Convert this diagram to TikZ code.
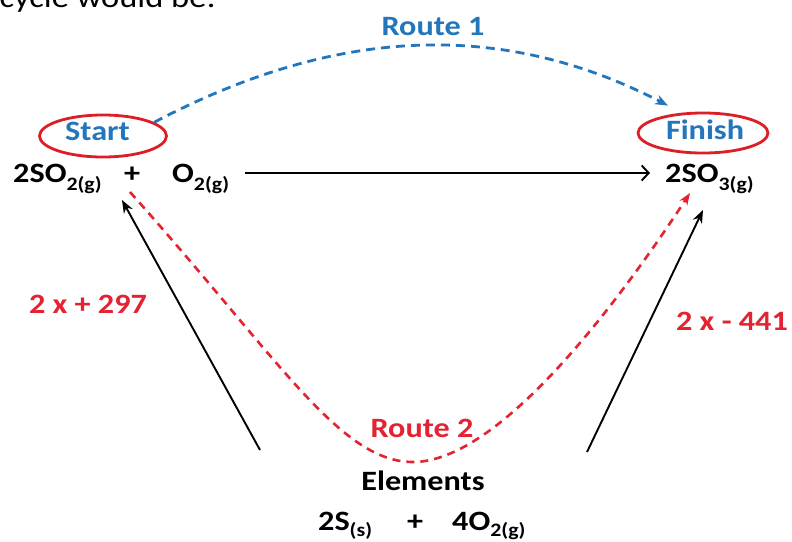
\documentclass[tikz,border=0pt]{standalone}
\usepackage{fontspec}
\setmainfont{Carlito}
\usetikzlibrary{shapes.geometric,arrows.meta,calc}
\definecolor{rtblue}{RGB}{35,118,188}
\definecolor{rtred}{RGB}{228,35,50}
\definecolor{ringred}{RGB}{222,30,38}
\newcommand{\sx}[1]{\scalebox{1.15}[1]{#1}}
\newcommand{\sbs}[1]{\raisebox{-0.3em}{\fontsize{19}{20}\selectfont #1}}
\newcommand{\sbb}[1]{\raisebox{-0.22em}{\fontsize{19}{20}\selectfont #1}}
\tikzset{
  txt/.style={inner sep=0pt, font=\fontsize{28}{32}\selectfont\bfseries},
  ring/.style={ellipse, draw=ringred, line width=2.8pt, inner sep=0pt},
  mainarr/.style={line width=1.9pt, -{Straight Barb[length=7pt,width=15pt,line width=1.9pt]}},
  blackarr/.style={line width=1.9pt, -{Stealth[length=13pt,width=10pt]}},
  route1/.style={rtblue, line width=2.8pt, dash pattern=on 9pt off 6pt, -{Stealth[length=13pt,width=10pt]}},
  route2/.style={rtred, line width=2.6pt, dash pattern=on 8pt off 6pt, -{Stealth[length=12pt,width=9pt]}}
}
\begin{document}
\begin{tikzpicture}[x=1pt,y=-1pt]
\useasboundingbox (0,0) rectangle (792,541);
\clip (0,0) rectangle (792,541);
\fill[white] (0,0) rectangle (792,541);
% cut-off caption at top
\node[inner sep=0pt, anchor=base east, font=\fontsize{30}{32}\selectfont] (caption) at (216,7) {\sx{cycle would be:}};
% rings
\node[ring, minimum width=127pt, minimum height=42pt] (startring) at (103,136) {};
\node[ring, minimum width=130pt, minimum height=40pt] (finishring) at (703,133) {};
% labels
\node[txt, rtblue, anchor=base] (start) at (97.5,140) {\sx{Start}};
\node[txt, rtblue, anchor=base] (finish) at (705,139) {\sx{Finish}};
\node[txt, rtblue, anchor=base] (route1lbl) at (433,35) {\sx{Route 1}};
\node[txt, rtred, anchor=base] (route2lbl) at (422,437) {\sx{Route 2}};
\node[txt, rtred, anchor=base] (lab1) at (88,313) {\sx{2 x + 297}};
\node[txt, rtred, anchor=base] (lab2) at (732,330) {\sx{2 x - 441}};
% formulas
\node[txt, anchor=base west] (so2) at (13,182) {\sx{2SO\sbs{2(g)}}};
\node[txt, anchor=base west] (plus1) at (124,182) {\sx{+}};
\node[txt, anchor=base west] (o2) at (172,182) {\sx{O\sbs{2(g)}}};
\node[txt, anchor=base west] (so3) at (665,182) {\sx{2SO\sbs{3(g)}}};
\node[txt, anchor=base] (elements) at (423,490) {\sx{Elements}};
\node[txt, anchor=base west] (s) at (318,530) {\sx{2S\sbb{(s)}}};
\node[txt, anchor=base west] (plus2) at (407,530) {\sx{+}};
\node[txt, anchor=base west] (o2b) at (452,530) {\sx{4O\sbb{2(g)}}};
% connectors
\draw[mainarr] ($(o2.base east)+(16,-9)$) -- ($(so3.base west)+(-15,-9)$);
\draw[route1] (startring.15) .. controls (337,26) and (503,20) .. ($(finishring.north)+(-35,-6)$);
\draw[route2] ($(plus1.base west)+(6,10)$) .. controls (280,360) and (340,462) .. ($(route2lbl.base)+(-9,25)$)
   .. controls (500,462) and (620,300) .. ($(so3.base west)+(25,11)$);
\draw[blackarr] ($(s.base west)+(-58,-80)$) -- ($(so2.base west)+(109,18)$);
\draw[blackarr] ($(o2b.base west)+(135,-78)$) -- ($(so3.base west)+(38,28)$);
\end{tikzpicture}
\end{document}
